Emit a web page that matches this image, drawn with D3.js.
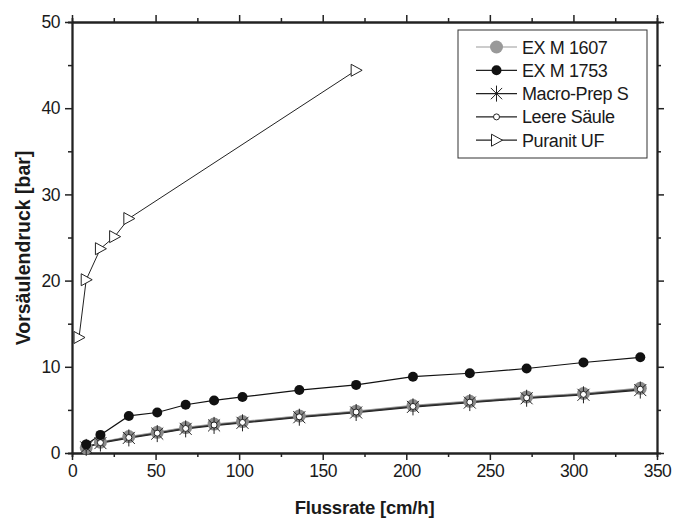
<!DOCTYPE html>
<html>
<head>
<meta charset="utf-8">
<script src="https://d3js.org/d3.v7.min.js"></script>
<style>
  body { margin: 0; background: #fff; }
  text { font-family: "Liberation Sans", Arial, sans-serif; fill: #1a1a1a; }
</style>
</head>
<body>
<svg id="chart" width="673" height="519"></svg>
<script>
// data
const flow = [8.5, 17, 34, 51, 68, 85, 102, 136, 170, 204, 238, 272, 306, 340];
const exm1607 = [0.6, 1.25, 1.9, 2.4, 2.95, 3.35, 3.65, 4.3, 4.85, 5.5, 6.0, 6.5, 6.9, 7.5];
const exm1753 = [1.0, 2.1, 4.3, 4.7, 5.6, 6.1, 6.5, 7.3, 7.9, 8.85, 9.25, 9.8, 10.5, 11.1];
const macroPrep = [0.65, 1.15, 1.75, 2.25, 2.8, 3.2, 3.5, 4.15, 4.7, 5.35, 5.85, 6.35, 6.75, 7.3];
const leere = [0.7, 1.2, 1.8, 2.3, 2.85, 3.25, 3.55, 4.2, 4.75, 5.4, 5.9, 6.4, 6.8, 7.4];
const puranitFlow = [4.2, 8.5, 17, 25.5, 34, 170];
const puranit = [13.4, 20.1, 23.7, 25.1, 27.2, 44.4];
const xTicks = [0, 50, 100, 150, 200, 250, 300, 350];
const yTicks = [0, 10, 20, 30, 40, 50];
const legendNames = ["EX M 1607", "EX M 1753", "Macro-Prep S", "Leere Säule", "Puranit UF"];

const svg = d3.select("#chart");
const pLeft = 72, pRight = 657, pTop = 22, pBottom = 453;

const x = d3.scaleLinear().domain([0, 350]).range([pLeft, pRight]);
const y = d3.scaleLinear().domain([0, 50]).range([pBottom, pTop]);

const axisCol = "#222";

// minor ticks
const xMinor = d3.range(25, 350, 50);
const yMinor = d3.range(5, 50, 10);

// bottom axis
const gx = svg.append("g").attr("transform", "translate(0," + pBottom + ")")
  .call(d3.axisBottom(x).tickValues(xTicks).tickSize(7).tickSizeOuter(0).tickPadding(5));
gx.append("g").call(d3.axisBottom(x).tickValues(xMinor).tickSize(4).tickFormat(""));
// top axis
const gxt = svg.append("g").attr("transform", "translate(0," + pTop + ")")
  .call(d3.axisTop(x).tickValues(xTicks).tickSize(7).tickSizeOuter(0).tickFormat(""));
gxt.append("g").call(d3.axisTop(x).tickValues(xMinor).tickSize(4).tickFormat(""));
// left axis
const gy = svg.append("g").attr("transform", "translate(" + pLeft + ",0)")
  .call(d3.axisLeft(y).tickValues(yTicks).tickSize(7).tickSizeOuter(0).tickPadding(5));
gy.append("g").call(d3.axisLeft(y).tickValues(yMinor).tickSize(4).tickFormat(""));
// right axis
const gyr = svg.append("g").attr("transform", "translate(" + pRight + ",0)")
  .call(d3.axisRight(y).tickValues(yTicks).tickSize(7).tickSizeOuter(0).tickFormat(""));
gyr.append("g").call(d3.axisRight(y).tickValues(yMinor).tickSize(4).tickFormat(""));

svg.selectAll(".domain").attr("stroke", axisCol).attr("stroke-width", 1.8);
svg.selectAll(".tick line").attr("stroke", axisCol).attr("stroke-width", 1.5);
svg.selectAll(".tick text").style("font-size", "17.5px").style("letter-spacing", "-0.5px")
  .attr("fill", "#1a1a1a").attr("font-family", "Liberation Sans, Arial, sans-serif");

// axis titles
svg.append("text").attr("x", (pLeft + pRight) / 2).attr("y", 514)
  .attr("text-anchor", "middle").style("font-size", "18.5px").style("font-weight", "bold")
  .style("letter-spacing", "-0.2px").text("Flussrate [cm/h]");
svg.append("text").attr("transform", "translate(30,248) rotate(-90)")
  .attr("text-anchor", "middle").style("font-size", "19.5px").style("font-weight", "bold")
  .text("Vorsäulendruck [bar]");

const line = d3.line().x(d => x(d[0])).y(d => y(d[1]));
const pts = (xs, ys) => xs.map((v, i) => [v, ys[i]]);

const starPath = function(s) {
  const d = s * 0.707;
  return "M0," + (-s) + "L0," + s + "M" + (-d) + "," + (-d) + "L" + d + "," + d +
         "M" + (-d) + "," + d + "L" + d + "," + (-d);
};
const triPath = "M-5,-6L6,0L-5,6Z";

// lines
svg.append("path").datum(pts(puranitFlow, puranit)).attr("d", line)
  .attr("fill", "none").attr("stroke", "#222").attr("stroke-width", 1);
svg.append("path").datum(pts(flow, exm1753)).attr("d", line)
  .attr("fill", "none").attr("stroke", "#111").attr("stroke-width", 1.2);
svg.append("path").datum(pts(flow, exm1607)).attr("d", line)
  .attr("fill", "none").attr("stroke", "#999").attr("stroke-width", 1.5);
svg.append("path").datum(pts(flow, macroPrep)).attr("d", line)
  .attr("fill", "none").attr("stroke", "#222").attr("stroke-width", 1.5);
svg.append("path").datum(pts(flow, leere)).attr("d", line)
  .attr("fill", "none").attr("stroke", "#333").attr("stroke-width", 1.2);

// markers
svg.selectAll("circle.m1607").data(pts(flow, exm1607)).join("circle")
  .attr("class", "m1607").attr("cx", d => x(d[0])).attr("cy", d => y(d[1]))
  .attr("r", 6.5).attr("fill", "#8a8a8a");
svg.selectAll("path.mmacro").data(pts(flow, macroPrep)).join("path")
  .attr("class", "mmacro").attr("transform", d => "translate(" + x(d[0]) + "," + y(d[1]) + ")")
  .attr("d", starPath(8.5)).attr("stroke", "#222").attr("stroke-width", 1).attr("fill", "none");
svg.selectAll("circle.mleere").data(pts(flow, leere)).join("circle")
  .attr("class", "mleere").attr("cx", d => x(d[0])).attr("cy", d => y(d[1]))
  .attr("r", 3).attr("fill", "#fff").attr("stroke", "#222").attr("stroke-width", 1);
svg.selectAll("circle.m1753").data(pts(flow, exm1753)).join("circle")
  .attr("class", "m1753").attr("cx", d => x(d[0])).attr("cy", d => y(d[1]))
  .attr("r", 5).attr("fill", "#111");
svg.selectAll("path.mpur").data(pts(puranitFlow, puranit)).join("path")
  .attr("class", "mpur").attr("transform", d => "translate(" + x(d[0]) + "," + y(d[1]) + ")")
  .attr("d", triPath).attr("fill", "#fff").attr("stroke", "#222").attr("stroke-width", 1);

// legend
const lg = svg.append("g");
lg.append("rect").attr("x", 458).attr("y", 30).attr("width", 189).attr("height", 128)
  .attr("fill", "#fff").attr("stroke", "#333").attr("stroke-width", 1);
const rowY = i => 47 + i * 23.3;
legendNames.forEach((name, i) => {
  const cy = rowY(i);
  lg.append("line").attr("x1", 476).attr("x2", 517).attr("y1", cy).attr("y2", cy)
    .attr("stroke", i === 0 ? "#999" : "#222").attr("stroke-width", 1.2);
  lg.append("text").attr("x", 522).attr("y", cy + 6.5).style("font-size", "18px")
    .style("letter-spacing", "-0.4px").text(name);
});
lg.append("circle").attr("cx", 496.5).attr("cy", rowY(0)).attr("r", 6.5).attr("fill", "#999");
lg.append("circle").attr("cx", 496.5).attr("cy", rowY(1)).attr("r", 5).attr("fill", "#111");
lg.append("path").attr("transform", "translate(496.5," + rowY(2) + ")").attr("d", starPath(8))
  .attr("stroke", "#222").attr("stroke-width", 1).attr("fill", "none");
lg.append("circle").attr("cx", 496.5).attr("cy", rowY(3)).attr("r", 3).attr("fill", "#fff")
  .attr("stroke", "#222").attr("stroke-width", 1);
lg.append("path").attr("transform", "translate(496.5," + rowY(4) + ")").attr("d", triPath)
  .attr("fill", "#fff").attr("stroke", "#222").attr("stroke-width", 1);
</script>
</body>
</html>
